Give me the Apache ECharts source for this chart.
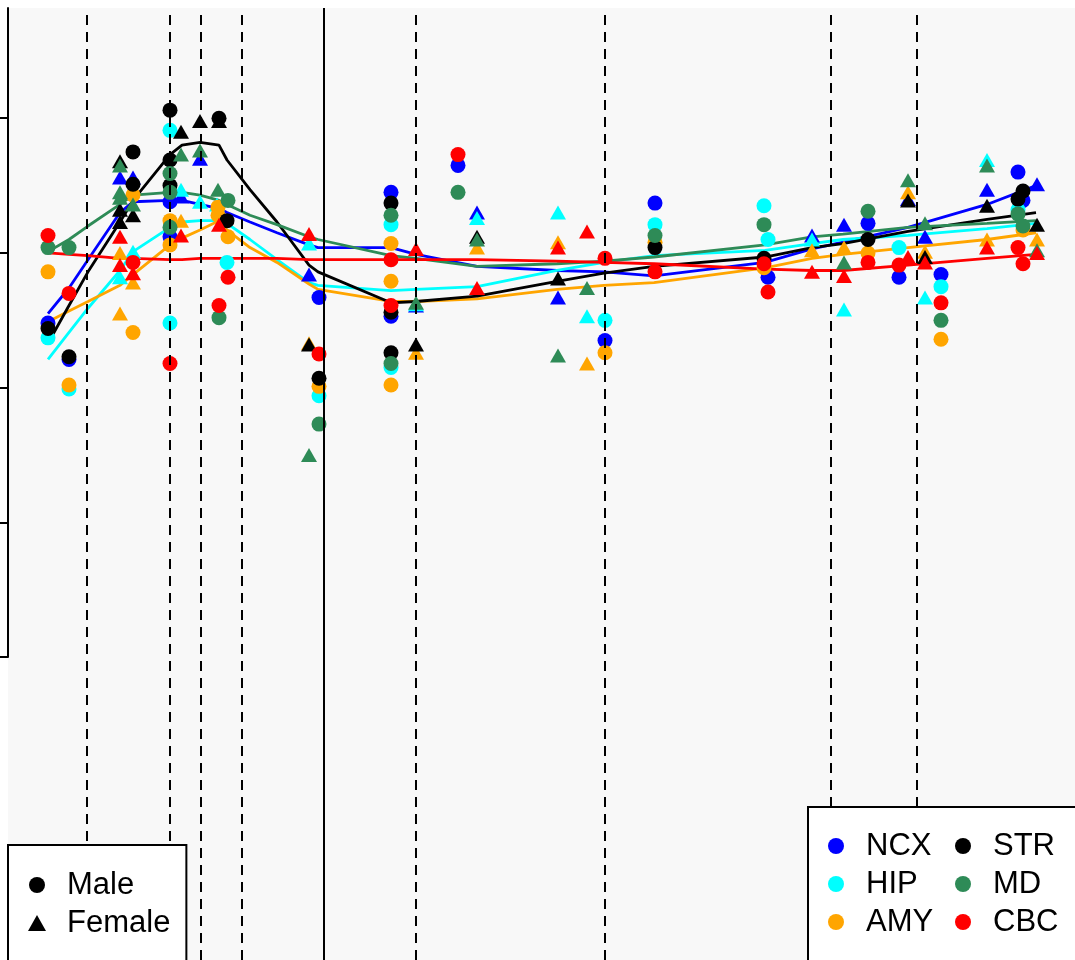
<!DOCTYPE html>
<html>
<head>
<meta charset="utf-8">
<script src="https://cdn.jsdelivr.net/npm/echarts@6/dist/echarts.min.js"></script>
<style>
html,body{margin:0;padding:0;background:#fff;}
#chart{width:1075px;height:960px;}
</style>
</head>
<body>
<div id="chart"></div>
<script>
// ---------- DATA ----------
// x: developmental age (log-scaled units), y: scaled expression
const stageBounds = [7.9, 16.2, 19.3, 23.4, 40.8, 59.7, 82.3, 90.9];
const birthLine = [31.6];
const yTicks = [-3, -2, -1, 0, 1];

// smoothed fits
const fitX   = [4.0, 6.1, 8.0, 11.2, 12.5, 16.2, 17.4, 19.2, 21.1, 21.9, 24.2, 26.9, 30.1, 31.0, 38.3, 40.8, 46.9, 54.9, 59.6, 64.6, 75.7, 80.4, 83.5, 90.0, 97.9, 102.8];
const fitNCX = [-0.45, -0.26, -0.05, 0.30, 0.38, 0.39, 0.39, 0.36, 0.33, 0.30, 0.23, 0.15, 0.06, 0.04, 0.04, -0.01, -0.10, -0.13, -0.14, -0.17, -0.07, 0.03, 0.08, 0.19, 0.36, 0.50];
const fitHIP = [-0.79, -0.59, -0.41, -0.13, 0.01, 0.19, 0.23, 0.24, 0.24, 0.22, 0.10, -0.05, -0.22, -0.24, -0.28, -0.27, -0.25, -0.13, -0.07, -0.02, 0.02, 0.07, 0.10, 0.13, 0.18, 0.22];
const fitAMY = [-0.51, -0.43, -0.36, -0.24, -0.16, 0.06, 0.11, 0.17, 0.24, 0.17, 0.04, -0.07, -0.23, -0.27, -0.36, -0.36, -0.34, -0.27, -0.24, -0.22, -0.11, -0.04, -0.01, 0.04, 0.10, 0.15];
const fitSTR = [-0.67, -0.39, -0.14, 0.23, 0.39, 0.73, 0.80, 0.82, 0.80, 0.69, 0.47, 0.23, -0.09, -0.14, -0.37, -0.36, -0.32, -0.21, -0.15, -0.10, -0.03, 0.04, 0.07, 0.16, 0.25, 0.30];
const fitMD  = [0.01, 0.10, 0.20, 0.36, 0.43, 0.45, 0.45, 0.43, 0.39, 0.36, 0.28, 0.21, 0.12, 0.10, -0.02, -0.04, -0.10, -0.08, -0.06, -0.03, 0.06, 0.12, 0.14, 0.19, 0.22, 0.24];
const fitCBC = [0.00, -0.01, -0.02, -0.04, -0.04, -0.05, -0.05, -0.04, -0.04, -0.04, -0.04, -0.04, -0.05, -0.05, -0.05, -0.05, -0.05, -0.06, -0.07, -0.08, -0.12, -0.13, -0.13, -0.09, -0.04, -0.01];

// samples [age, value]
const ncxMale = [[4.0,-0.52],[6.1,-0.79],[16.2,0.38],[16.2,0.12],[31.1,-0.33],[38.3,0.45],[38.3,-0.47],[45.0,0.65],[59.7,-0.65],[64.7,0.37],[76.0,-0.18],[86.0,0.22],[89.1,-0.18],[93.3,-0.16],[101.0,0.60],[101.5,0.39]];
const ncxFemale = [[11.2,0.56],[12.5,0.56],[17.3,0.42],[19.2,0.70],[30.1,-0.16],[40.8,-0.39],[46.9,0.30],[55.0,-0.33],[80.4,0.13],[83.6,0.21],[90.0,0.40],[91.7,0.12],[97.9,0.47],[102.9,0.51]];
const hipMale = [[4.0,-0.63],[6.1,-1.01],[16.2,0.91],[16.2,-0.52],[21.9,-0.07],[31.1,-1.06],[38.3,0.21],[38.3,-0.85],[59.7,-0.50],[64.7,0.21],[75.6,0.35],[76.0,0.10],[89.1,0.04],[93.3,-0.25],[101.0,0.32]];
const hipFemale = [[11.2,-0.18],[12.5,0.01],[17.3,0.47],[19.2,0.38],[20.9,0.36],[30.1,0.07],[40.8,-0.38],[46.9,0.26],[55.0,0.30],[57.9,-0.47],[80.4,0.10],[83.6,-0.42],[91.7,-0.33],[97.9,0.69]];
const amyMale = [[4.0,-0.14],[6.1,-0.98],[12.5,0.43],[12.5,-0.59],[16.2,0.24],[16.2,0.06],[21.0,0.34],[21.0,0.28],[22.0,0.12],[31.1,-0.99],[38.3,0.07],[38.3,-0.21],[38.3,-0.98],[59.7,-0.74],[64.7,0.08],[75.6,-0.11],[86.0,0.00],[93.3,-0.64],[101.5,0.17]];
const amyFemale = [[11.2,0.00],[11.2,-0.45],[12.5,-0.22],[17.3,0.24],[30.1,-0.67],[40.8,-0.74],[46.9,0.04],[55.0,0.08],[57.9,-0.82],[80.4,0.02],[83.6,0.04],[90.0,0.45],[91.7,0.01],[97.9,0.10],[102.9,0.10]];
const strMale = [[4.0,-0.56],[6.1,-0.77],[12.5,0.75],[12.5,0.51],[16.2,1.06],[16.2,0.69],[16.2,0.50],[21.1,1.00],[21.9,0.24],[31.1,-0.93],[38.3,0.37],[38.3,-0.44],[38.3,-0.74],[64.7,0.04],[75.6,-0.04],[86.0,0.10],[101.0,0.40],[101.5,0.46]];
const strFemale = [[11.2,0.68],[11.2,0.32],[11.2,0.23],[12.5,0.28],[17.3,0.90],[19.2,0.98],[21.1,0.98],[30.1,-0.68],[40.8,-0.68],[46.9,0.12],[55.0,-0.19],[90.0,0.39],[91.7,-0.03],[97.9,0.35],[102.9,0.21]];
const mdMale = [[4.0,0.04],[6.1,0.04],[16.2,0.59],[16.2,0.45],[16.2,0.19],[22.0,0.39],[21.1,-0.48],[31.1,-1.27],[38.3,0.28],[38.3,-0.82],[45.0,0.45],[64.7,0.13],[75.6,0.21],[86.0,0.31],[93.3,-0.50],[101.0,0.29],[101.5,0.20]];
const mdFemale = [[11.2,0.65],[11.2,0.45],[11.2,0.41],[12.5,0.36],[17.3,0.73],[19.2,0.76],[21.0,0.47],[30.1,-1.50],[40.8,-0.37],[46.9,0.10],[55.0,-0.76],[57.9,-0.26],[83.6,-0.07],[90.0,0.54],[91.7,0.22],[97.9,0.65],[102.9,0.02]];
const cbcMale = [[4.0,0.13],[6.1,-0.30],[12.5,-0.07],[16.2,-0.82],[22.0,-0.18],[21.1,-0.39],[31.1,-0.75],[38.3,-0.05],[38.3,-0.39],[45.0,0.73],[59.7,-0.04],[64.7,-0.14],[75.6,-0.08],[76.0,-0.29],[86.0,-0.07],[89.1,-0.09],[93.3,-0.37],[101.0,0.04],[101.5,-0.08]];
const cbcFemale = [[11.2,0.12],[11.2,-0.09],[12.5,-0.15],[17.3,0.13],[21.1,0.21],[30.1,0.14],[40.8,0.03],[46.9,-0.26],[55.0,0.04],[57.9,0.16],[80.4,-0.14],[83.6,-0.17],[90.0,-0.03],[91.7,-0.07],[97.9,0.04],[102.9,0.00]];

const regions = ['NCX', 'HIP', 'AMY', 'STR', 'MD', 'CBC'];
const sexes = ['Male', 'Female'];

// ---------- STYLE ----------
const colors = { NCX: '#0000ff', HIP: '#00ffff', AMY: '#ffa500', STR: '#000000', MD: '#2e8b57', CBC: '#ff0000' };
const fits = { NCX: fitNCX, HIP: fitHIP, AMY: fitAMY, STR: fitSTR, MD: fitMD, CBC: fitCBC };
const samples = {
  NCX: [ncxMale, ncxFemale], HIP: [hipMale, hipFemale], AMY: [amyMale, amyFemale],
  STR: [strMale, strFemale], MD: [mdMale, mdFemale], CBC: [cbcMale, cbcFemale]
};
const FONT = "'Liberation Sans', Arial, Helvetica, sans-serif";

const series = [];
regions.forEach(r => {
  series.push({
    type: 'line', name: r, xAxisIndex: 0, yAxisIndex: 0,
    data: fitX.map((x, i) => [x, fits[r][i]]),
    showSymbol: false, symbol: 'none', smooth: false,
    lineStyle: { color: colors[r], width: 2.8 },
    itemStyle: { color: colors[r] },
    z: 2, silent: true
  });
});
regions.forEach(r => {
  sexes.forEach((s, k) => {
    series.push({
      type: 'scatter', name: s, xAxisIndex: 0, yAxisIndex: 0,
      data: samples[r][k],
      symbol: k === 0 ? 'circle' : 'triangle',
      symbolSize: k === 0 ? 15 : [16, 14],
      itemStyle: { color: colors[r], opacity: 1 },
      z: 3, silent: true
    });
  });
});
series.push({
  type: 'line', name: 'bounds', xAxisIndex: 0, yAxisIndex: 0, data: [], silent: true,
  markLine: {
    silent: true, symbol: ['none', 'none'], label: { show: false }, animation: false,
    z: 10,
    data: stageBounds.map(v => ({ xAxis: v, lineStyle: { type: [10, 7], color: '#000', width: 2 } }))
      .concat(birthLine.map(v => ({ xAxis: v, lineStyle: { type: 'solid', color: '#000', width: 2 } })))
  }
});

const legendText = { fontSize: 31, fontFamily: FONT, color: '#000', lineHeight: 38, padding: [0, 0, 0, 17] };

const option = {
  backgroundColor: '#ffffff',
  animation: false,
  grid: [
    { left: 8, right: 0, top: 8, bottom: 0, show: true, backgroundColor: '#f8f8f8', borderWidth: 0 },
    { left: 8, width: 10, top: 8, bottom: 303, show: false }
  ],
  xAxis: [
    { type: 'value', gridIndex: 0, min: 0, max: 106.7, show: false },
    { type: 'value', gridIndex: 1, min: 0, max: 1, show: false }
  ],
  yAxis: [
    { type: 'value', gridIndex: 0, min: -5.247, max: 1.818, show: false },
    {
      type: 'value', gridIndex: 1, min: -3, max: 1.818, interval: 1, position: 'left',
      axisLine: { show: true, onZero: false, lineStyle: { color: '#000', width: 2 } },
      axisTick: { show: true, inside: false, length: 8, lineStyle: { color: '#000', width: 2 }, customValues: yTicks },
      axisLabel: { show: false },
      splitLine: { show: false }
    }
  ],
  legend: [
    {
      left: 8, top: 845, width: 400, height: 300, orient: 'vertical',
      padding: [21, 16, 60, 20], backgroundColor: '#ffffff', borderColor: '#000', borderWidth: 2, borderRadius: 0,
      itemWidth: 18, itemHeight: 16, itemGap: 0, selectedMode: false, z: 20,
      textStyle: { fontSize: 31, fontFamily: FONT, color: '#000', lineHeight: 38, padding: [0, 0, 0, 16] },
      data: [
        { name: 'Male', icon: 'circle', itemStyle: { color: '#000' } },
        { name: 'Female', icon: 'triangle', itemStyle: { color: '#000' } }
      ]
    },
    {
      left: 808, top: 807, width: 600, height: 300, orient: 'vertical',
      padding: [20, 400, 60, 20], backgroundColor: '#ffffff', borderColor: '#000', borderWidth: 2, borderRadius: 0,
      itemWidth: 16, itemHeight: 16, itemGap: 0, selectedMode: false, z: 20,
      textStyle: legendText,
      data: ['NCX', 'HIP', 'AMY'].map(r => ({ name: r, icon: 'circle', itemStyle: { color: colors[r] } }))
    },
    {
      left: 955, top: 827, width: 300, height: 300, orient: 'vertical',
      padding: 0, itemWidth: 16, itemHeight: 16, itemGap: 0, selectedMode: false, z: 21,
      textStyle: legendText,
      data: ['STR', 'MD', 'CBC'].map(r => ({ name: r, icon: 'circle', itemStyle: { color: colors[r] } }))
    }
  ],
  series: series
};

const chart = echarts.init(document.getElementById('chart'), null, { renderer: 'canvas' });
chart.setOption(option);
</script>
</body>
</html>
